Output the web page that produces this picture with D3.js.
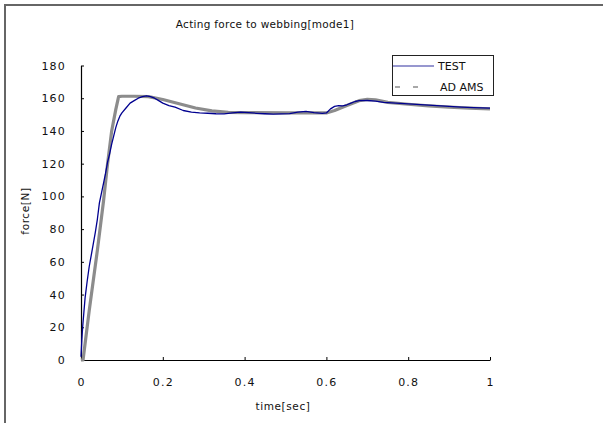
<!DOCTYPE html>
<html><head><meta charset="utf-8">
<script src="https://cdn.jsdelivr.net/npm/d3@7"></script>
<style>
body{margin:0;background:#fff;}
svg{display:block;font-family:"DejaVu Sans",sans-serif;}
</style></head><body>
<svg id="c" width="603" height="423"></svg>
<script>
const title = "Acting force to webbing[mode1]";
const xTitle = "time[sec]";
const yTitle = "force[N]";
const xTicks = [0, 0.2, 0.4, 0.6, 0.8, 1];
const yTicks = [0, 20, 40, 60, 80, 100, 120, 140, 160, 180];
const seriesNames = ["TEST", "AD AMS"];

const testTime = [0,0.002,0.004,0.007,0.01,0.015,0.02,0.025,0.03,0.035,0.04,0.045,0.05,0.055,0.06,0.065,0.07,0.075,0.08,0.085,0.09,0.095,0.1,0.11,0.12,0.13,0.14,0.15,0.16,0.17,0.18,0.19,0.2,0.215,0.23,0.25,0.27,0.29,0.31,0.33,0.35,0.37,0.39,0.41,0.43,0.45,0.47,0.49,0.51,0.53,0.55,0.57,0.59,0.6,0.61,0.62,0.63,0.64,0.65,0.66,0.67,0.68,0.7,0.72,0.74,0.76,0.78,0.8,0.82,0.85,0.88,0.9,0.93,0.96,1.0];
const testForce = [2,12,20,29,38,48,57,64,71,78,86,96,102,108,114,121,126,132,137,142,146,149,151,154,157,158.5,160,161,161.5,161,160,158.5,157,155.5,154.5,152.5,151.5,151,150.8,150.5,150.4,151,151.5,151.2,150.8,150.5,150.3,150.4,150.6,151.5,152,151.2,150.8,151,153.5,155,155.5,155.3,156,157,158,158.5,158.6,158.2,157.5,157.2,156.8,156.5,156.2,155.8,155.3,155,154.6,154.3,154];

const adamsTime = [0,0.005,0.02,0.04,0.055,0.065,0.075,0.085,0.092,0.1,0.13,0.165,0.2,0.24,0.28,0.32,0.36,0.4,0.5,0.6,0.62,0.65,0.68,0.7,0.72,0.75,0.8,0.85,0.9,0.95,1.0];
const adamsForce = [0,0,30,67,97,120,140,153,161,161.2,161.2,161,159.2,156.6,154,152.3,151.4,151.2,151,151,152.5,155.5,158.5,159.3,159,157.5,156.3,155.3,154.5,153.9,153.5];

const svg = d3.select("#c");
const X0 = 81, X1 = 490, Y0 = 360, Y1 = 65.5;
const x = d3.scaleLinear().domain([0, 1]).range([X0, X1]);
const y = d3.scaleLinear().domain([0, 180]).range([Y0, Y1]);

// outer frame
svg.append("rect").attr("x", 5).attr("y", 5).attr("width", 640).attr("height", 460)
  .attr("fill", "none").attr("stroke", "#666").attr("stroke-width", 2);

svg.append("text").attr("x", 265).attr("y", 28).attr("text-anchor", "middle")
  .attr("font-size", 10.5).attr("letter-spacing", 0.3).attr("fill", "#111").text(title);

// axes
const xAxis = d3.axisBottom(x).tickValues(xTicks).tickSizeInner(-3).tickSizeOuter(0)
  .tickFormat(d => d === 0 || d === 1 ? String(d) : d3.format(".1f")(d));
const gx = svg.append("g").attr("transform", `translate(0,${Y0})`).call(xAxis);
gx.select(".domain").attr("stroke", "#000").attr("stroke-width", 1.2);
gx.selectAll(".tick line").attr("stroke", "#000");
gx.selectAll(".tick text").attr("y", 18).attr("font-size", 11).attr("letter-spacing", 1.2)
  .attr("fill", "#111").attr("font-family", "DejaVu Sans");

const yAxis = d3.axisLeft(y).tickValues(yTicks).tickSizeInner(-3).tickSizeOuter(0);
const gy = svg.append("g").attr("transform", `translate(${X0},0)`).call(yAxis);
gy.select(".domain").attr("stroke", "#000").attr("stroke-width", 1.2);
gy.selectAll(".tick line").attr("stroke", "#000");
gy.selectAll(".tick text").attr("x", -15).attr("font-size", 11).attr("letter-spacing", 1.2)
  .attr("fill", "#111").attr("font-family", "DejaVu Sans");

svg.append("text").attr("x", 283).attr("y", 410).attr("text-anchor", "middle")
  .attr("font-size", 10.5).attr("letter-spacing", 0.6).attr("fill", "#111").text(xTitle);
svg.append("text").attr("transform", "translate(29,211) rotate(-90)").attr("text-anchor", "middle")
  .attr("font-size", 10.5).attr("letter-spacing", 0.6).attr("fill", "#111").text(yTitle);

const line = d3.line().x(d => x(d[0])).y(d => y(d[1]));
const adams = adamsTime.map((t, i) => [t, adamsForce[i]]);
const test = testTime.map((t, i) => [t, testForce[i]]);

svg.append("path").datum(adams).attr("d", line).attr("fill", "none")
  .attr("stroke", "#8c8c8c").attr("stroke-width", 3.2).attr("stroke-linejoin", "round");
svg.append("path").datum(test).attr("d", line).attr("fill", "none")
  .attr("stroke", "#000090").attr("stroke-width", 1.3).attr("stroke-linejoin", "round");

// legend
const lg = svg.append("g");
lg.append("rect").attr("x", 392.5).attr("y", 55.5).attr("width", 101).attr("height", 40)
  .attr("fill", "#fff").attr("stroke", "#222").attr("stroke-width", 1);
lg.append("line").attr("x1", 393).attr("x2", 434).attr("y1", 66).attr("y2", 66)
  .attr("stroke", "#3030a0").attr("stroke-width", 1.2);
lg.append("line").attr("x1", 395).attr("x2", 420).attr("y1", 87).attr("y2", 87)
  .attr("stroke", "#8c8c8c").attr("stroke-width", 1.5).attr("stroke-dasharray", "5,13");
lg.append("text").attr("x", 438).attr("y", 70).attr("font-size", 11).attr("fill", "#111").text(seriesNames[0]);
lg.append("text").attr("x", 440).attr("y", 91).attr("font-size", 11).attr("fill", "#111").text(seriesNames[1]);
</script>
</body></html>
